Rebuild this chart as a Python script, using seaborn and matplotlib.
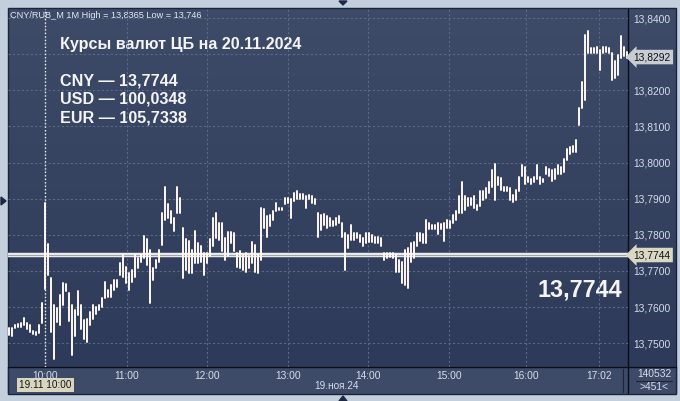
import numpy as np
import pandas as pd
import seaborn as sns
import matplotlib.pyplot as plt
import matplotlib.transforms as mtransforms
from matplotlib.colors import LinearSegmentedColormap
from matplotlib.patches import Rectangle, Polygon

# CNY/RUB 1-minute bars, sampled roughly every 2.2 minutes (high / low)
highs = [
    13.7542, 13.7543, 13.7551, 13.7552, 13.7555, 13.7570, 13.7555, 13.7549, 13.7535, 13.7532,
    13.7550, 13.7610, 13.7888, 13.7775, 13.7680, 13.7605, 13.7596, 13.7633, 13.7666, 13.7664,
    13.7640, 13.7605, 13.7591, 13.7643, 13.7605, 13.7563, 13.7568, 13.7587, 13.7605, 13.7600,
    13.7605, 13.7624, 13.7669, 13.7648, 13.7660, 13.7675, 13.7675, 13.7721, 13.7745, 13.7712,
    13.7694, 13.7703, 13.7745, 13.7735, 13.7745, 13.7798, 13.7789, 13.7759, 13.7707, 13.7731,
    13.7759, 13.7861, 13.7931, 13.7884, 13.7866, 13.7847, 13.7931, 13.7903, 13.7819, 13.7787,
    13.7782, 13.7759, 13.7810, 13.7777, 13.7768, 13.7749, 13.7749, 13.7787, 13.7847, 13.7861,
    13.7833, 13.7833, 13.7791, 13.7809, 13.7809, 13.7805, 13.7749, 13.7754, 13.7744, 13.7749,
    13.7740, 13.7781, 13.7772, 13.7744, 13.7875, 13.7870, 13.7851, 13.7856, 13.7865, 13.7889,
    13.7875, 13.7875, 13.7901, 13.7901, 13.7898, 13.7917, 13.7921, 13.7912, 13.7912, 13.7907,
    13.7909, 13.7907, 13.7898, 13.7860, 13.7856, 13.7858, 13.7851, 13.7846, 13.7837, 13.7846,
    13.7851, 13.7832, 13.7805, 13.7800, 13.7828, 13.7805, 13.7805, 13.7800, 13.7791, 13.7805,
    13.7805, 13.7800, 13.7795, 13.7795, 13.7791, 13.7749, 13.7749, 13.7749, 13.7749, 13.7744,
    13.7731, 13.7726, 13.7758, 13.7763, 13.7777, 13.7781, 13.7805, 13.7806, 13.7801, 13.7842,
    13.7833, 13.7828, 13.7828, 13.7833, 13.7831, 13.7833, 13.7842, 13.7837, 13.7856, 13.7865,
    13.7906, 13.7947, 13.7906, 13.7901, 13.7901, 13.7906, 13.7883, 13.7920, 13.7920, 13.7929,
    13.7947, 13.7979, 13.7997, 13.7961, 13.7956, 13.7933, 13.7933, 13.7929, 13.7911, 13.7924,
    13.7961, 13.7992, 13.7987, 13.7959, 13.7955, 13.7959, 13.7992, 13.7959, 13.7955, 13.7987,
    13.7982, 13.7978, 13.7982, 13.7992, 13.7987, 13.8010, 13.8038, 13.8043, 13.8047, 13.8061,
    13.8150, 13.8224, 13.8354, 13.8365, 13.8317, 13.8317, 13.8319, 13.8312, 13.8319, 13.8319,
    13.8317, 13.8303, 13.8280, 13.8298, 13.8349, 13.8321, 13.8307,
]
lows = [
    13.7523, 13.7521, 13.7541, 13.7544, 13.7544, 13.7550, 13.7540, 13.7530, 13.7525, 13.7523,
    13.7529, 13.7557, 13.7650, 13.7690, 13.7531, 13.7456, 13.7559, 13.7549, 13.7605, 13.7643,
    13.7560, 13.7466, 13.7521, 13.7577, 13.7540, 13.7512, 13.7503, 13.7549, 13.7568, 13.7582,
    13.7591, 13.7600, 13.7624, 13.7629, 13.7628, 13.7647, 13.7656, 13.7689, 13.7684, 13.7666,
    13.7647, 13.7670, 13.7684, 13.7707, 13.7726, 13.7735, 13.7717, 13.7610, 13.7675, 13.7707,
    13.7726, 13.7773, 13.7840, 13.7847, 13.7833, 13.7810, 13.7861, 13.7861, 13.7680, 13.7703,
    13.7694, 13.7694, 13.7721, 13.7721, 13.7726, 13.7689, 13.7721, 13.7740, 13.7768, 13.7791,
    13.7786, 13.7754, 13.7730, 13.7740, 13.7777, 13.7754, 13.7712, 13.7707, 13.7702, 13.7696,
    13.7707, 13.7721, 13.7698, 13.7693, 13.7730, 13.7819, 13.7795, 13.7823, 13.7842, 13.7865,
    13.7868, 13.7868, 13.7884, 13.7889, 13.7847, 13.7893, 13.7900, 13.7898, 13.7898, 13.7875,
    13.7898, 13.7889, 13.7884, 13.7795, 13.7814, 13.7828, 13.7819, 13.7823, 13.7823, 13.7828,
    13.7832, 13.7795, 13.7703, 13.7763, 13.7786, 13.7786, 13.7791, 13.7781, 13.7768, 13.7777,
    13.7781, 13.7781, 13.7777, 13.7777, 13.7768, 13.7731, 13.7735, 13.7738, 13.7735, 13.7698,
    13.7698, 13.7666, 13.7661, 13.7652, 13.7726, 13.7735, 13.7768, 13.7783, 13.7778, 13.7778,
    13.7815, 13.7815, 13.7815, 13.7801, 13.7815, 13.7783, 13.7819, 13.7819, 13.7833, 13.7842,
    13.7860, 13.7860, 13.7869, 13.7879, 13.7883, 13.7874, 13.7869, 13.7879, 13.7897, 13.7901,
    13.7915, 13.7933, 13.7897, 13.7938, 13.7924, 13.7920, 13.7920, 13.7897, 13.7892, 13.7897,
    13.7920, 13.7964, 13.7941, 13.7945, 13.7941, 13.7945, 13.7955, 13.7941, 13.7945, 13.7968,
    13.7964, 13.7950, 13.7955, 13.7968, 13.7968, 13.7973, 13.8006, 13.8024, 13.8029, 13.8029,
    13.8103, 13.8150, 13.8173, 13.8303, 13.8303, 13.8303, 13.8303, 13.8256, 13.8303, 13.8307,
    13.8303, 13.8228, 13.8233, 13.8242, 13.8289, 13.8294, 13.8289,
]

time_labels = ['10:00', '11:00', '12:00', '13:00', '14:00', '15:00', '16:00', '17:02']
time_pos = [12, 39.1, 65.9, 92.9, 119.6, 146.4, 172.1, 196.5]
price_ticks = [13.75, 13.76, 13.77, 13.78, 13.79, 13.80, 13.81, 13.82, 13.83, 13.84]

cb_rate = 13.7744
last_price = 13.8292
rates = [('CNY', '13,7744'), ('USD', '100,0348'), ('EUR', '105,7338')]

n = len(highs)
df = pd.DataFrame({
    'idx': np.concatenate([np.arange(n), np.arange(n)]),
    'price': np.concatenate([lows, highs]),
})

sns.set_style('dark')
plt.rcParams['font.family'] = ['Liberation Sans', 'DejaVu Sans']

W, H = 680, 401
fig = plt.figure(figsize=(W / 100, H / 100), dpi=100, facecolor='#C3CFDD')

# background / frame in pixel coordinates
bg = fig.add_axes([0, 0, 1, 1])
bg.set_xlim(0, W)
bg.set_ylim(H, 0)
bg.axis('off')
cmap = LinearSegmentedColormap.from_list('bgc', ['#3D4B68', '#2D3A59'])
bg.imshow(np.linspace(0, 1, 100).reshape(-1, 1), extent=(8, 676, 367, 9),
          aspect='auto', cmap=cmap, zorder=0)
bg.add_patch(Rectangle((8, 367), 668, 26, color='#3D4A68', zorder=1))
bg.add_patch(Rectangle((8, 8), 668, 386, fill=False, ec='#1C2438', lw=1, zorder=2))
bg.plot([8, 676], [367, 367], color='#0A0E18', lw=1, zorder=2)
bg.plot([628, 628], [9, 393], color='#0A0E18', lw=1, zorder=2)
bg.plot([623, 623], [369, 392], color='#1E2536', lw=0.8, zorder=2)
bg.plot([636, 672], [381, 381], color='#1E2536', lw=0.8, zorder=2)
for pts in ([(339, 1), (347, 1), (343, 5)], [(339, 401), (347, 401), (343, 396)],
            [(1, 197), (1, 205), (6, 201)]):
    bg.add_patch(Polygon(pts, closed=True, color='#1E2A44', zorder=2))

txt = '#E6EAF2'
lab = '#D5DCEA'
bg.text(10, 17.5, 'CNY/RUB_M 1M High = 13,8365 Low = 13,746', color=txt,
        fontsize=6.6, va='baseline', ha='left', zorder=5)
bg.text(60, 49, 'Курсы валют ЦБ на 20.11.2024', color='#F4F4F4', fontsize=11.6,
        fontweight='bold', va='baseline', zorder=5)
for (cur, val), yb in zip(rates, [85.5, 104, 122.3]):
    bg.text(60, yb, f'{cur} — {val}', color='#F4F4F4', fontsize=11.6,
            fontweight='bold', va='baseline', zorder=5)
bg.text(622, 297, '13,7744', color='#F4F4F4', fontsize=16.8, fontweight='bold',
        ha='right', va='baseline', zorder=5)
bg.text(45.5, 385, '19.11 10:00', color='#151515', fontsize=7.2, ha='center',
        va='center', zorder=5,
        bbox=dict(boxstyle='square,pad=0.2', fc='#D8D6BE', ec='none'))
bg.text(337, 389, '19.ноя.24', color=lab, fontsize=7.2, ha='center',
        va='baseline', zorder=5)
bg.text(654, 377, '140532', color=lab, fontsize=7.4, ha='center',
        va='baseline', zorder=5)
bg.text(654, 390, '>451<', color=lab, fontsize=7.4, ha='center',
        va='baseline', zorder=5)

# main price axes
ax = fig.add_axes([8 / W, 34 / H, 620 / W, 358 / H])
ax.patch.set_alpha(0)
ax.set_xlim(-0.5, 206.17)
ax.set_ylim(13.7434, 13.8425)
ax.grid(True, color='#5A6985', ls=(0, (2, 2)), lw=0.8)
ax.axhline(cb_rate, color='#ECECEC', lw=3.2, zorder=3)
ax.axhline(cb_rate, color='#9EA4AE', lw=0.8, zorder=3)
ax.axvline(12, color='#F0F0F0', ls=(0, (1, 1.5)), lw=1, zorder=2)

sns.lineplot(data=df, x='idx', y='price', units='idx', estimator=None,
             color='#FFF8F2', lw=1.4, ax=ax, legend=False, zorder=4)

# the 13,8300 label sits under the last-price marker, so it is left blank
ylabels = [f'{v:.4f}'.replace('.', ',') for v in price_ticks]
ylabels[price_ticks.index(13.83)] = ''
ax.yaxis.tick_right()
ax.set_yticks(price_ticks)
ax.set_yticklabels(ylabels)
ax.set_xticks(time_pos)
ax.set_xticklabels(time_labels)
ax.tick_params(axis='both', length=0, colors=lab, labelsize=7.4)
ax.tick_params(axis='y', pad=4)
ax.tick_params(axis='x', pad=3)
ax.set_xlabel('')
ax.set_ylabel('')
for s in ax.spines.values():
    s.set_visible(False)

tr = mtransforms.blended_transform_factory(ax.transAxes, ax.transData)
ax.text(1.009, last_price, '13,8292', transform=tr, color='#111111', fontsize=7.4,
        va='center', ha='left', zorder=6, clip_on=False,
        bbox=dict(boxstyle='larrow,pad=0.22', fc='#C8CDD4', ec='none'))
ax.text(1.009, cb_rate, '13,7744', transform=tr, color='#111111', fontsize=7.4,
        va='center', ha='left', zorder=6, clip_on=False,
        bbox=dict(boxstyle='larrow,pad=0.22', fc='#D9D8C4', ec='none'))

fig.savefig('out.png', dpi=100, facecolor=fig.get_facecolor())
